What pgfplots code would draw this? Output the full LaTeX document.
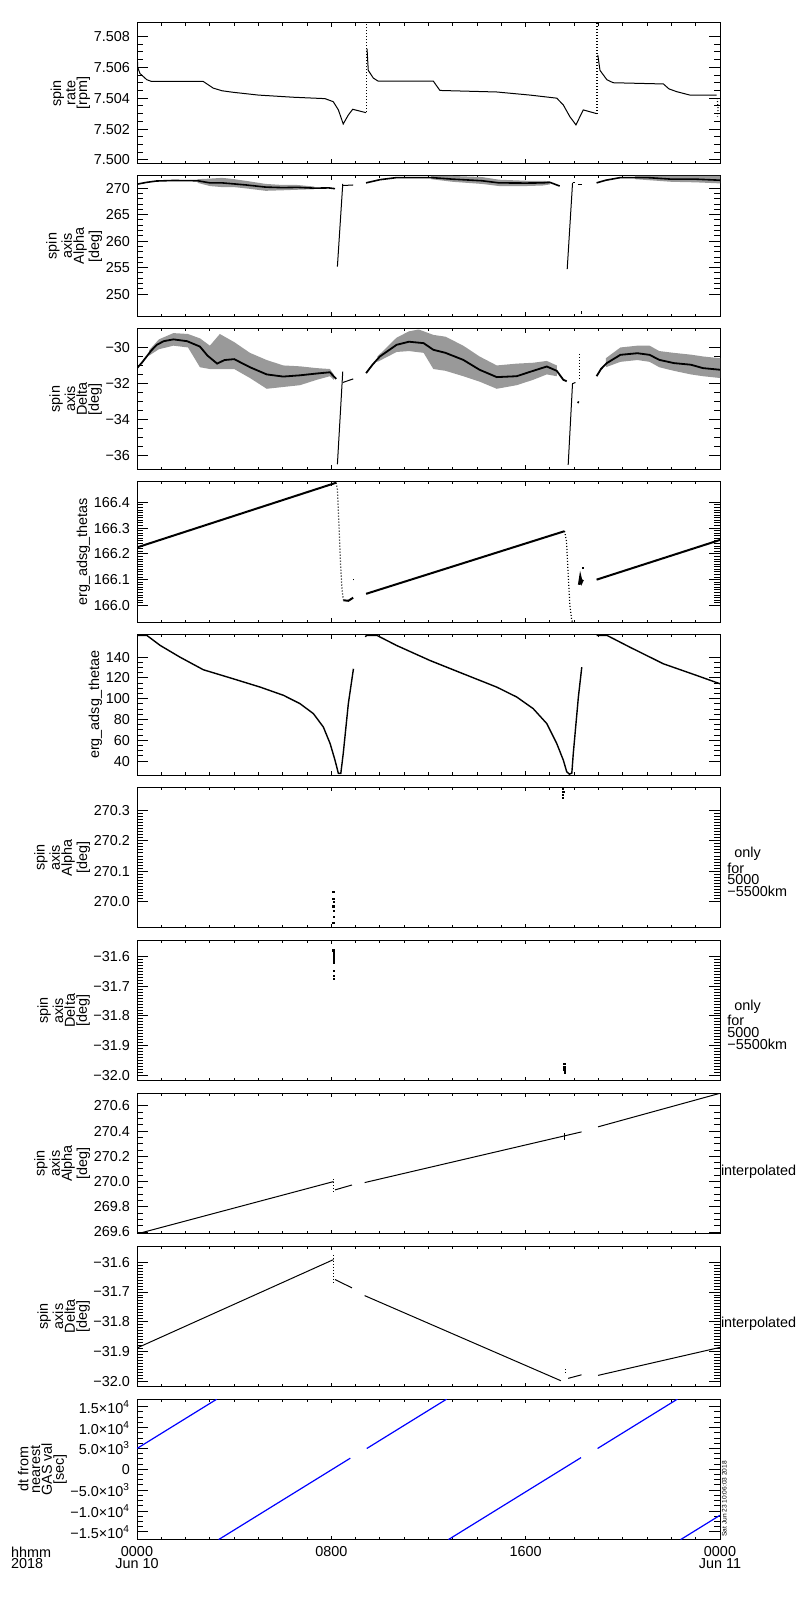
\documentclass[border=0pt]{standalone}
\usepackage{fontspec}
\setmainfont{Liberation Sans}
\usepackage{pgfplots}
\pgfplotsset{compat=1.18}
\newcommand\pfont{\fontsize{7.2}{5.9}\selectfont}
\pgfplotsset{panel/.style={
  scale only axis, width=291.5pt, height=70.25pt,
  anchor=north west,
  xmin=0, xmax=24, xtick={0,8,16,24}, minor x tick num=7,
  xticklabels={},
  tick align=inside,
  scaled ticks=false,
  axis line style={line width=0.5pt},
  every tick/.append style={line width=0.5pt, black},
  major tick length=5.5pt, minor tick length=3pt,
  xtick style={/pgfplots/major tick length=2pt, /pgfplots/minor tick length=1.3pt},
  tick label style={font=\pfont},
  ylabel style={font=\pfont, align=center},
  ylabel shift=-5pt,
  cycle list={{black, solid, no markers}},
  every axis plot/.append style={line width=0.5pt, black},
}}
\begin{document}
\begin{tikzpicture}
\useasboundingbox (0,0) rectangle (400pt,800pt);
% ---------- panel 1
\begin{axis}[panel, at={(68.5pt,788.5pt)}, ymin=7.49977, ymax=7.50887,
  ytick={7.500,7.502,7.504,7.506,7.508}, yticklabels={7.500,7.502,7.504,7.506,7.508},
  minor y tick num=3, ylabel={spin\\rate\\{}[rpm]}]
\addplot[black] coordinates {(0,7.5071)(0.03,7.5060)(0.12,7.5056)(0.4,7.5052)(0.6,7.50508)(2.73,7.50508)(2.9,7.5049)(3.14,7.50465)(3.5,7.50448)(3.96,7.50438)(5.0,7.5042)(6.44,7.50406)(7.74,7.50397)(8.08,7.50377)(8.29,7.50324)(8.49,7.50233)(8.70,7.50291)(8.88,7.50328)(9.43,7.50306)};
\addplot[black, densely dotted, line width=0.6pt] coordinates {(9.45,7.5031)(9.45,7.5095)};
\addplot[black] coordinates {(9.47,7.5072)(9.52,7.5058)(9.73,7.5053)(9.93,7.5051)(12.2,7.5051)(12.47,7.5045)(14.81,7.5044)(16.18,7.5042)(17.28,7.5040)(17.55,7.50356)(17.82,7.5028)(18.07,7.50227)(18.37,7.50324)(18.92,7.5030)};
\addplot[black, densely dotted, line width=0.6pt] coordinates {(18.94,7.5030)(18.94,7.5095)};
\addplot[black] coordinates {(18.97,7.5068)(19.06,7.5058)(19.34,7.5052)(19.6,7.5050)(21.67,7.50492)(21.9,7.5046)(22.22,7.50442)(22.76,7.5042)(23.86,7.5042)};
\addplot[black, densely dotted, line width=0.6pt] coordinates {(23.88,7.5040)(23.92,7.5034)(23.9,7.5028)};
\end{axis}
% ---------- panel 2
\begin{axis}[panel, at={(68.5pt,712.05pt)}, ymin=245.79, ymax=272.32,
  ytick={250,255,260,265,270}, yticklabels={250,255,260,265,270},
  minor y tick num=4, ylabel={spin\\axis\\Alpha\\{}[deg]}]
\addplot[fill=black!40, draw=none] coordinates {(2.5,271.7)(3.0,271.8)(3.5,271.95)(4.0,271.7)(4.6,271.3)(5.3,270.8)(6.0,270.6)(6.6,270.6)(7.3,270.3)(7.3,269.8)(6.6,269.7)(6.0,269.6)(5.3,269.5)(4.6,269.9)(4.0,270.2)(3.5,270.2)(3.0,270.4)(2.5,271.0)} -- cycle;
\addplot[fill=black!40, draw=none] coordinates {(12.1,272.3)(13.0,272.3)(14.2,272.1)(14.9,271.6)(16.0,271.4)(16.7,271.4)(17.0,271.3)(17.0,270.7)(16.7,270.5)(16.0,270.4)(14.9,270.4)(14.2,270.8)(13.0,271.2)(12.1,271.7)} -- cycle;
\addplot[fill=black!40, draw=none] coordinates {(20.5,272.3)(24,272.3)(24,270.9)(23,271.1)(22,271.2)(20.5,271.7)} -- cycle;
\addplot[black, line width=0.8pt] coordinates {(0,270.75)(0.4,271.1)(0.8,271.35)(1.5,271.45)(2.5,271.4)(3.0,271.0)(3.5,271.0)(4.0,270.8)(4.5,270.6)(5.3,270.2)(6.0,270.1)(6.6,270.15)(7.3,270.0)(7.9,270.05)(8.15,269.9)};
\addplot[black] coordinates {(8.25,255.2)(8.47,270.8)};
\addplot[black] coordinates {(8.47,270.5)(8.9,270.6)};
\addplot[black, line width=0.8pt] coordinates {(9.43,271.0)(10.0,271.6)(10.69,272.0)(12.1,272.0)(13.0,271.7)(14.2,271.4)(14.9,271.0)(16.0,270.96)(16.7,271.0)(17.0,271.1)(17.4,270.4)};
\addplot[black] coordinates {(17.71,254.7)(17.93,271.0)};
\addplot[black] coordinates {(17.93,271.0)(18.05,271.0)};
\addplot[black] coordinates {(18.15,270.6)(18.3,270.6)};
\addplot[black] coordinates {(18.3,246.2)(18.3,246.8)};
\addplot[black, line width=0.8pt] coordinates {(18.92,271.0)(19.3,271.5)(19.9,272.0)(21.0,272.0)(22.0,271.7)(23.0,271.7)(24,271.5)};
\end{axis}
% ---------- panel 3
\begin{axis}[panel, at={(68.5pt,635.6pt)}, ymin=-36.78, ymax=-28.96,
  ytick={-36,-34,-32,-30}, yticklabels={−36,−34,−32,−30},
  minor y tick num=3, ylabel={spin\\axis\\Delta\\{}[deg]}]
\addplot[fill=black!40, draw=none] coordinates {(0.5,-30.15)(0.9,-29.55)(1.5,-29.2)(2.1,-29.25)(2.6,-29.5)(3.0,-29.9)(3.41,-29.25)(4.0,-29.7)(4.65,-30.3)(5.34,-30.7)(6.02,-31.0)(6.71,-31.05)(7.4,-31.15)(7.94,-31.2)(8.1,-31.5)(8.1,-31.8)(7.94,-31.6)(7.4,-31.8)(6.71,-32.1)(6.02,-32.2)(5.34,-32.3)(4.65,-31.7)(4.0,-31.2)(3.41,-31.2)(3.0,-31.2)(2.59,-31.1)(2.1,-30.0)(1.5,-29.9)(0.9,-30.1)(0.5,-30.45)} -- cycle;
\addplot[fill=black!40, draw=none] coordinates {(9.9,-30.5)(10.69,-29.45)(11.2,-29.1)(11.6,-29.0)(12.2,-29.3)(12.7,-29.4)(13.43,-29.9)(14.1,-30.5)(14.81,-31.0)(15.63,-30.9)(16.31,-30.85)(16.87,-30.75)(17.28,-31.0)(17.28,-31.6)(16.87,-31.5)(16.31,-31.8)(15.63,-32.1)(14.81,-32.3)(14.1,-31.9)(13.43,-31.6)(12.7,-31.3)(12.2,-31.2)(11.8,-30.3)(11.2,-30.2)(10.69,-30.25)(9.9,-30.8)} -- cycle;
\addplot[fill=black!40, draw=none] coordinates {(19.3,-30.6)(19.9,-30.0)(20.6,-29.9)(21.1,-29.9)(21.5,-30.2)(22.1,-30.3)(22.8,-30.4)(23.3,-30.5)(24,-30.6)(24,-31.7)(23.3,-31.6)(22.8,-31.5)(22.1,-31.3)(21.5,-31.1)(21.1,-30.8)(20.6,-30.7)(19.9,-30.8)(19.3,-31.1)} -- cycle;
\addplot[black, line width=0.9pt] coordinates {(0,-31.15)(0.2,-30.85)(0.4,-30.5)(0.6,-30.15)(0.82,-29.85)(1.1,-29.65)(1.5,-29.55)(2.06,-29.65)(2.59,-29.95)(2.9,-30.45)(3.3,-30.9)(3.6,-30.7)(4.0,-30.65)(4.65,-31.1)(5.34,-31.5)(6.02,-31.62)(6.71,-31.55)(7.4,-31.45)(7.94,-31.38)(8.2,-31.75)};
\addplot[black] coordinates {(8.25,-36.5)(8.47,-31.34)};
\addplot[black] coordinates {(8.47,-31.95)(8.9,-31.75)};
\addplot[black, line width=0.9pt] coordinates {(9.43,-31.43)(9.7,-30.95)(10.0,-30.5)(10.69,-29.85)(11.2,-29.68)(11.8,-29.76)(12.2,-30.13)(12.7,-30.3)(13.43,-30.69)(14.1,-31.24)(14.81,-31.65)(15.63,-31.6)(16.31,-31.3)(16.87,-31.06)(17.28,-31.3)(17.55,-31.8)(17.69,-31.88)};
\addplot[black] coordinates {(17.75,-36.54)(17.93,-31.98)};
\addplot[black] coordinates {(17.95,-32.0)(18.05,-31.95)};
\addplot[black, densely dotted] coordinates {(18.23,-30.35)(18.23,-31.85)};
\addplot[black, line width=0.8pt] coordinates {(18.15,-33.1)(18.18,-33.0)};
\addplot[black, line width=0.9pt] coordinates {(18.92,-31.6)(19.1,-31.2)(19.34,-30.87)(19.9,-30.41)(20.6,-30.32)(21.1,-30.41)(21.5,-30.69)(22.1,-30.87)(22.8,-30.96)(23.3,-31.15)(24,-31.24)};
\end{axis}
% ---------- panel 4
\begin{axis}[panel, at={(68.5pt,559.15pt)}, ymin=165.935, ymax=166.48,
  ytick={166.0,166.1,166.2,166.3,166.4}, yticklabels={166.0,166.1,166.2,166.3,166.4},
  minor y tick num=9, ylabel={erg\_adsg\_thetas}]
\addplot[black, line width=1pt] coordinates {(0,166.225)(8.2,166.476)};
\addplot[black, densely dotted, line width=0.6pt] coordinates {(8.2,166.476)(8.25,166.45)(8.32,166.3)(8.38,166.16)(8.44,166.06)(8.5,166.02)};
\addplot[black, line width=1pt] coordinates {(8.5,166.02)(8.7,166.018)(8.9,166.03)};
\addplot[black, line width=0.8pt] coordinates {(8.91,166.097)(8.91,166.103)};
\addplot[black, line width=1pt] coordinates {(9.43,166.045)(17.6,166.288)};
\addplot[black, densely dotted, line width=0.6pt] coordinates {(17.6,166.288)(17.68,166.25)(17.75,166.12)(17.82,166.0)(17.9,165.94)(18.0,165.935)};
\addplot[black, line width=1.2pt] coordinates {(18.2,166.08)(18.25,166.11)(18.3,166.09)(18.35,166.1)};
\addplot[black, line width=0.8pt] coordinates {(18.37,166.142)(18.37,166.148)};
\addplot[black, line width=1pt] coordinates {(18.92,166.1)(24,166.254)};
\end{axis}
% ---------- panel 5
\begin{axis}[panel, at={(68.5pt,482.7pt)}, ymin=26.6, ymax=161.7,
  ytick={40,60,80,100,120,140}, yticklabels={40,60,80,100,120,140},
  minor y tick num=3, ylabel={erg\_adsg\_thetae}]
\addplot[black, line width=0.7pt] coordinates {(0,160.8)(0.41,160.8)(0.96,151.2)(1.77,140)(2.73,127.9)(3.96,119.2)(5.07,111.2)(6.03,103.3)(6.71,95.3)(7.26,85.7)(7.67,72.9)(7.95,56.9)(8.15,41.0)(8.29,28.2)(8.39,28.2)(8.49,47.3)(8.70,95.3)(8.91,128.8)};
\addplot[black, line width=0.7pt] coordinates {(9.40,159.5)(9.45,161)(9.87,161)(10.69,151.2)(12.06,136.8)(13.43,124)(14.81,111.2)(15.63,101.7)(16.31,90.5)(16.87,76.1)(17.28,56.9)(17.55,41)(17.69,29.8)(17.8,27.5)(17.9,28.5)(17.96,47.3)(18.17,101.7)(18.31,130.4)};
\addplot[black, line width=0.7pt] coordinates {(18.92,160.8)(19.34,161)(20.29,149.6)(21.67,133.6)(23.04,122.4)(24,114.4)};
\end{axis}
% ---------- panel 6
\begin{axis}[panel, at={(68.5pt,406.25pt)}, ymin=269.915, ymax=270.374,
  ytick={270.0,270.1,270.2,270.3}, yticklabels={270.0,270.1,270.2,270.3},
  minor y tick num=9, ylabel={spin\\axis\\Alpha\\{}[deg]}]
\addplot[black, only marks, mark=square*, mark size=0.3pt] coordinates {(8.09,269.93)(8.1,269.95)(8.1,269.97)(8.09,269.985)(8.1,270.0)(8.09,270.01)(8.09,270.033)};
\addplot[black, only marks, mark=square*, mark size=0.3pt] coordinates {(17.55,270.34)(17.55,270.35)(17.56,270.36)(17.55,270.37)};
\end{axis}
% ---------- panel 7
\begin{axis}[panel, at={(68.5pt,329.8pt)}, ymin=-32.018, ymax=-31.546,
  ytick={-32.0,-31.9,-31.8,-31.7,-31.6}, yticklabels={−32.0,−31.9,−31.8,−31.7,−31.6},
  minor y tick num=9, ylabel={spin\\axis\\Delta\\{}[deg]}]
\addplot[black, only marks, mark=square*, mark size=0.3pt] coordinates {(8.09,-31.58)(8.1,-31.59)(8.1,-31.60)(8.1,-31.61)(8.1,-31.62)(8.1,-31.65)(8.1,-31.665)(8.1,-31.675)};
\addplot[black, only marks, mark=square*, mark size=0.3pt] coordinates {(17.6,-31.96)(17.6,-31.97)(17.6,-31.98)(17.62,-31.99)};
\end{axis}
% ---------- panel 8
\begin{axis}[panel, at={(68.5pt,253.35pt)}, ymin=269.586, ymax=270.70,
  ytick={269.6,269.8,270.0,270.2,270.4,270.6}, yticklabels={269.6,269.8,270.0,270.2,270.4,270.6},
  minor y tick num=3, ylabel={spin\\axis\\Alpha\\{}[deg]}]
\addplot[black] coordinates {(0,269.585)(8.09,270.0)};
\addplot[black, densely dotted] coordinates {(8.1,269.92)(8.1,270.035)};
\addplot[black] coordinates {(8.15,269.934)(8.85,269.973)};
\addplot[black] coordinates {(9.37,269.992)(18.3,270.394)};
\addplot[black] coordinates {(17.6,270.33)(17.6,270.385)};
\addplot[black] coordinates {(18.98,270.434)(24,270.70)};
\end{axis}
% ---------- panel 9
\begin{axis}[panel, at={(68.5pt,176.9pt)}, ymin=-32.018, ymax=-31.546,
  ytick={-32.0,-31.9,-31.8,-31.7,-31.6}, yticklabels={−32.0,−31.9,−31.8,−31.7,−31.6},
  minor y tick num=9, ylabel={spin\\axis\\Delta\\{}[deg]}]
\addplot[black] coordinates {(0,-31.888)(8.09,-31.591)};
\addplot[black, densely dotted] coordinates {(8.1,-31.575)(8.1,-31.675)};
\addplot[black] coordinates {(8.15,-31.658)(8.85,-31.686)};
\addplot[black] coordinates {(9.37,-31.712)(17.45,-31.998)};
\addplot[black, densely dotted] coordinates {(17.62,-31.96)(17.62,-31.975)};
\addplot[black] coordinates {(17.75,-31.99)(18.3,-31.978)};
\addplot[black] coordinates {(18.98,-31.98)(24,-31.886)};
\end{axis}
% ---------- panel 10
\begin{axis}[panel, at={(68.5pt,100.45pt)}, ymin=-16840, ymax=16840,
  ytick={-15000,-10000,-5000,0,5000,10000,15000},
  yticklabels={−1.5×10\textsuperscript{4},−1.0×10\textsuperscript{4},−5.0×10\textsuperscript{3},0,5.0×10\textsuperscript{3},1.0×10\textsuperscript{4},1.5×10\textsuperscript{4}},
  minor y tick num=3, ylabel={dt from\\nearest\\GAS val\\{}[sec]},
  xticklabels={{0000\\Jun 10},0800,1600,{0000\\Jun 11}},
  xticklabel style={align=center}]
\addplot[blue, line width=0.6pt] coordinates {(0,5000)(3.29,16844)};
\addplot[blue, line width=0.6pt] coordinates {(3.36,-16840)(8.78,2672)};
\addplot[blue, line width=0.6pt] coordinates {(9.46,5000)(12.75,16844)};
\addplot[blue, line width=0.6pt] coordinates {(12.82,-16840)(18.28,2816)};
\addplot[blue, line width=0.6pt] coordinates {(18.96,5000)(22.25,16844)};
\addplot[blue, line width=0.6pt] coordinates {(22.38,-16840)(24,-11008)};
\end{axis}
% ---------- extra text
\node[anchor=north west, font=\pfont, align=left] at (2pt,30.2pt) {hhmm\\2018};
\node[anchor=west, font=\pfont, align=left, inner sep=0pt] at (363.5pt,364pt) {\hspace*{3.5pt}only\\for\\5000\\−5500km};
\node[anchor=west, font=\pfont, align=left, inner sep=0pt] at (363.5pt,287.55pt) {\hspace*{3.5pt}only\\for\\5000\\−5500km};
\node[anchor=west, font=\pfont, inner sep=0pt] at (360.3pt,214.15pt) {interpolated};
\node[anchor=west, font=\pfont, inner sep=0pt] at (360.3pt,138pt) {interpolated};
\node[rotate=90, anchor=north west, inner sep=0pt, font=\fontsize{3.3}{4}\selectfont] at (360.8pt,31.5pt) {Sat Jun 23 10:06:03 2018};
\end{tikzpicture}
\end{document}
